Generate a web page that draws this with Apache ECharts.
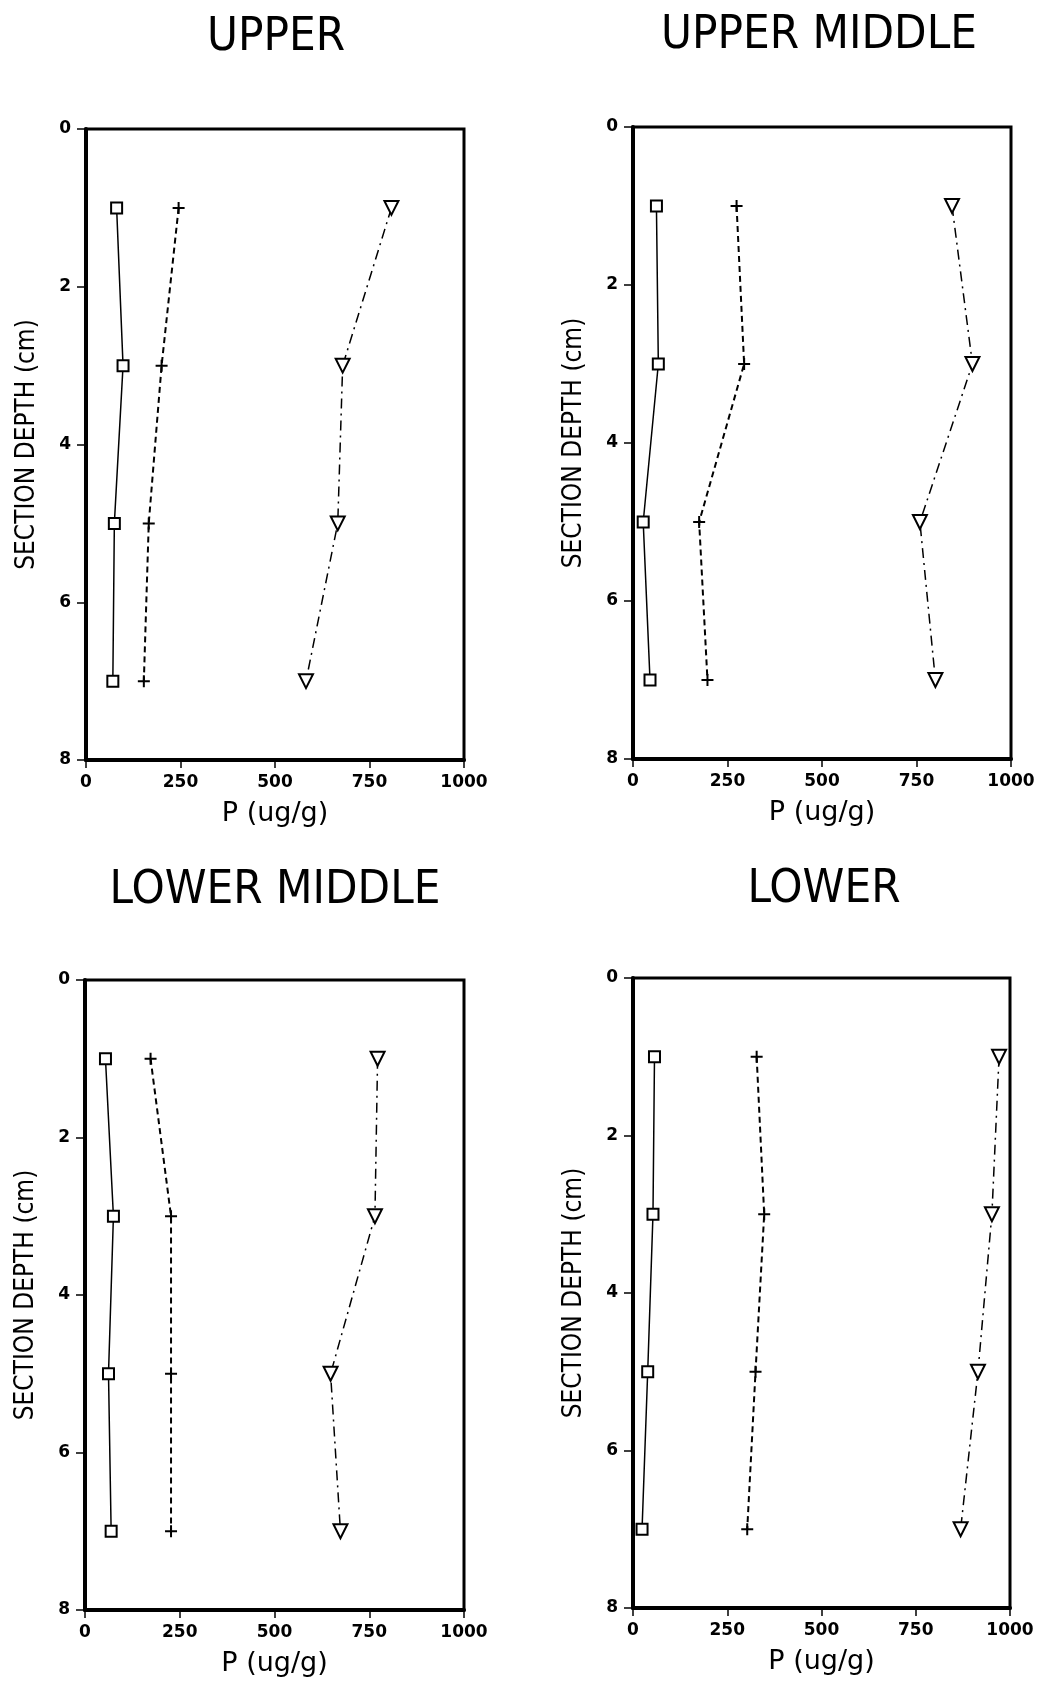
<!DOCTYPE html>
<html>
<head>
<meta charset="utf-8">
<script src="https://cdn.jsdelivr.net/npm/echarts@6/dist/echarts.min.js"></script>
<style>
  html, body { margin: 0; padding: 0; background: #fff; }
  #chart { width: 1039px; height: 1682px; }
</style>
</head>
<body>
<div id="chart"></div>
<script>
// depth of each section (cm)
const depths = [1, 3, 5, 7];
const panelTitles = ['UPPER', 'UPPER MIDDLE', 'LOWER MIDDLE', 'LOWER'];

// P (ug/g) per panel
const upper_sq = [81, 98, 75, 71];
const upper_plus = [245, 200, 166, 153];
const upper_tri = [808, 679, 666, 582];

const upperMid_sq = [62, 67, 27, 45];
const upperMid_plus = [274, 294, 175, 197];
const upperMid_tri = [844, 898, 759, 800];

const lowerMid_sq = [54, 75, 62, 69];
const lowerMid_plus = [173, 227, 227, 227];
const lowerMid_tri = [772, 765, 648, 674];

const lower_sq = [57, 53, 39, 24];
const lower_plus = [328, 348, 325, 303];
const lower_tri = [971, 952, 915, 869];

const panelData = [
    [upper_sq, upper_plus, upper_tri],
    [upperMid_sq, upperMid_plus, upperMid_tri],
    [lowerMid_sq, lowerMid_plus, lowerMid_tri],
    [lower_sq, lower_plus, lower_tri]
];

// grid boxes (px)
const grids = [
    {left: 86, top: 129, width: 378, height: 631},
    {left: 633, top: 127, width: 378, height: 632},
    {left: 85, top: 980, width: 379, height: 630},
    {left: 633, top: 978, width: 377, height: 630}
];
const titlePos = [
    {x: 271, y: 9},
    {x: 814, y: 7},
    {x: 270, y: 862},
    {x: 819, y: 861}
];

const black = '#000';
const plusPath = 'path://M0,5L10,5M5,0L5,10';

let chart = echarts.init(document.getElementById('chart'));

const toPoints = vals => vals.map((v, i) => [v, depths[i]]);

let option = {
    backgroundColor: '#fff',
    animation: false,
    title: panelTitles.map((t, i) => ({
        text: t,
        left: titlePos[i].x,
        top: titlePos[i].y,
        textAlign: 'center',
        textStyle: {
            fontFamily: 'DejaVu Sans Condensed',
            fontWeight: 'normal',
            fontSize: 47,
            color: black
        }
    })),
    grid: grids.map(g => Object.assign({
        show: true,
        borderColor: black,
        borderWidth: 3,
        containLabel: false
    }, g)),
    xAxis: grids.map((g, i) => ({
        gridIndex: i,
        type: 'value',
        min: 0,
        max: 1000,
        interval: 250,
        name: 'P (ug/g)',
        nameLocation: 'middle',
        nameGap: 40,
        nameTextStyle: {fontFamily: 'DejaVu Sans', fontSize: 27, color: black},
        axisLine: {show: true, onZero: false, lineStyle: {color: black, width: 4}},
        axisTick: {show: true, length: 8, lineStyle: {color: black, width: 1.5}},
        axisLabel: {
            margin: 14, color: black, fontFamily: 'DejaVu Sans', fontWeight: 'bold', fontSize: 17,
            formatter: v => String(v)
        },
        splitLine: {show: false}
    })),
    yAxis: grids.map((g, i) => ({
        gridIndex: i,
        type: 'value',
        inverse: true,
        min: 0,
        max: 8,
        interval: 2,
        name: 'SECTION DEPTH (cm)',
        nameLocation: 'middle',
        nameGap: 46,
        nameTextStyle: {fontFamily: 'DejaVu Sans Condensed', fontSize: 26, color: black},
        axisLine: {show: true, onZero: false, lineStyle: {color: black, width: 4}},
        axisTick: {show: true, length: 9, lineStyle: {color: black, width: 1.5}},
        axisLabel: {margin: 15, color: black, fontFamily: 'DejaVu Sans', fontWeight: 'bold', fontSize: 17},
        splitLine: {show: false}
    })),
    series: []
};

panelData.forEach((sets, i) => {
    //方块 实线
    option.series.push({
        type: 'line',
        xAxisIndex: i,
        yAxisIndex: i,
        data: toPoints(sets[0]),
        symbol: 'rect',
        symbolSize: 11,
        lineStyle: {color: black, width: 1.5, type: 'solid'},
        itemStyle: {color: '#fff', borderColor: black, borderWidth: 2},
        z: 3
    });
    //十字 虚线
    option.series.push({
        type: 'line',
        xAxisIndex: i,
        yAxisIndex: i,
        data: toPoints(sets[1]),
        symbol: plusPath,
        symbolSize: 12,
        lineStyle: {color: black, width: 2, type: [6, 4]},
        itemStyle: {color: black, borderColor: black, borderWidth: 2},
        z: 3
    });
    //倒三角 点划线
    option.series.push({
        type: 'line',
        xAxisIndex: i,
        yAxisIndex: i,
        data: toPoints(sets[2]),
        symbol: 'triangle',
        symbolRotate: 180,
        symbolSize: 14,
        lineStyle: {color: black, width: 1.5, type: [10, 5, 2, 5]},
        itemStyle: {color: '#fff', borderColor: black, borderWidth: 2},
        z: 3
    });
});

chart.setOption(option);
</script>
</body>
</html>
